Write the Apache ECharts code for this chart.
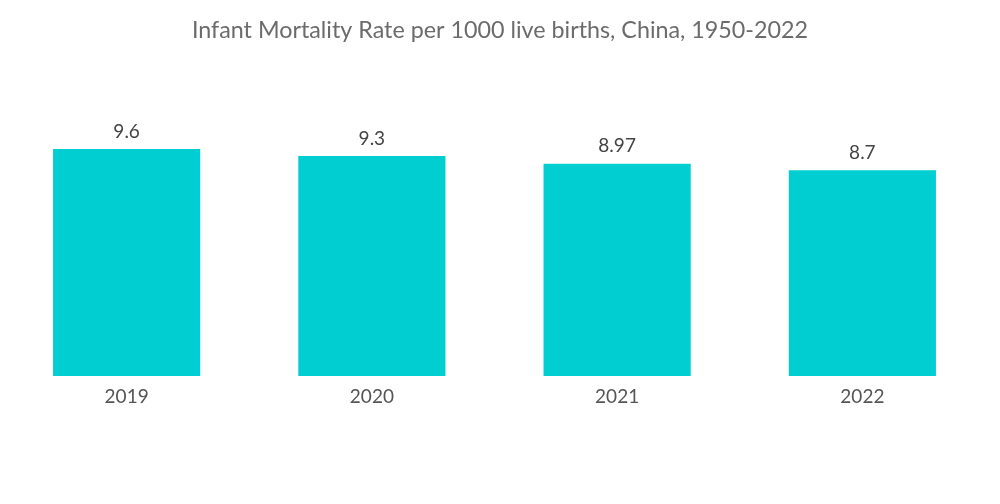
<!DOCTYPE html>
<html><head><meta charset="utf-8">
<script src="https://cdn.jsdelivr.net/npm/echarts@6/dist/echarts.min.js"></script>
<style>html,body{margin:0;padding:0;background:#fff}#c{width:1000px;height:504px}</style>
</head><body><div id="c"></div>
<script>
var categories = ['2019', '2020', '2021', '2022'];
var values = [9.6, 9.3, 8.97, 8.7];
var titleText = 'Infant Mortality Rate per 1000 live births, China, 1950-2022';

var chart = echarts.init(document.getElementById('c'));
chart.setOption({
  animation: false,
  backgroundColor: '#fff',
  title: {
    text: titleText, left: 'center', top: 14,
    textStyle: { fontFamily: 'Lato', fontWeight: 'normal', fontSize: 23.3, color: '#6b6b6b' }
  },
  grid: { left: 4, right: 15, top: 139.5, bottom: 128 },
  xAxis: {
    type: 'category', data: categories,
    axisLine: { show: false }, axisTick: { show: false },
    axisLabel: { fontFamily: 'Lato', fontSize: 19, color: '#555', margin: 11 }
  },
  yAxis: { type: 'value', min: 0, max: 10, show: false, splitLine: { show: false } },
  series: [{
    type: 'bar', data: values, barWidth: '60%',
    itemStyle: { color: '#00CED1' },
    label: { show: true, position: 'top', distance: 8, fontFamily: 'Lato', fontSize: 19, color: '#444' }
  }]
});
</script></body></html>
